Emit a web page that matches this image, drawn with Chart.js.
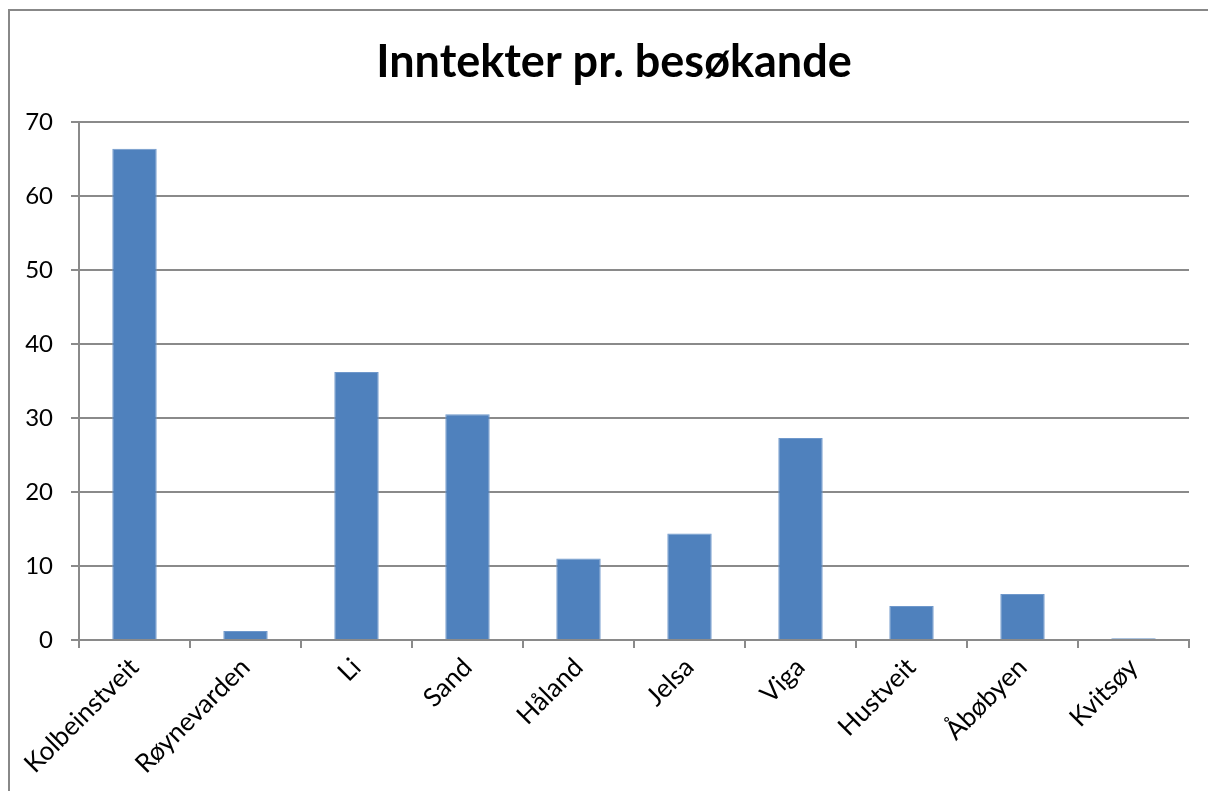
<!DOCTYPE html>
<html>
<head>
<meta charset="utf-8">
<script src="https://cdn.jsdelivr.net/npm/chart.js@4.4.1/dist/chart.umd.min.js"></script>
<style>
  body { margin: 0; background: #fff; overflow: hidden; }
  #ramme { position: absolute; left: 8px; top: 9px; width: 1300px; height: 900px;
           border-left: 2px solid #888; border-top: 2px solid #888; }
  #graf { position: absolute; left: 0; top: 0; }
</style>
</head>
<body>
<div id="ramme"></div>
<canvas id="graf" width="1208" height="791"></canvas>
<script>
// Inntekter pr. besøkande
const steder = ['Kolbeinstveit', 'Røynevarden', 'Li', 'Sand', 'Håland', 'Jelsa', 'Viga', 'Hustveit', 'Åbøbyen', 'Kvitsøy'];
const inntekter = [66.4, 1.2, 36.2, 30.5, 11.0, 14.4, 27.3, 4.6, 6.2, 0.25];
const yTicks = [0, 10, 20, 30, 40, 50, 60, 70];

const gra = '#8a8a8a';

const data = {
    labels: steder,
    datasets: [{
        label: 'Inntekter pr. besøkande',
        data: inntekter,
        backgroundColor: '#4F81BD',
        borderColor: '#6f98cb',
        borderWidth: 1,
        barPercentage: 0.4,
        categoryPercentage: 1
    }]
};

const config = {
    type: 'bar',
    data: data,
    options: {
        responsive: false,
        animation: false,
        layout: {
            padding: { left: 20, right: 0, top: 0, bottom: 0 }
        },
        scales: {
            x: {
                grid: {
                    offset: true,
                    drawOnChartArea: false,
                    tickLength: 8,
                    color: gra,
                    lineWidth: 2
                },
                border: { color: gra, width: 2 },
                ticks: {
                    minRotation: 45,
                    maxRotation: 45,
                    padding: 4,
                    color: '#000',
                    font: { family: 'Lato', size: 26 }
                },
                afterFit: function(scale) { scale.height = 151; }
            },
            y: {
                min: 0,
                max: 70,
                afterBuildTicks: function(scale) {
                    scale.ticks = yTicks.map(v => ({ value: v }));
                },
                grid: {
                    tickLength: 8,
                    color: gra,
                    lineWidth: 2
                },
                border: { color: gra, width: 2 },
                ticks: {
                    padding: 18,
                    color: '#000',
                    font: { family: 'Lato', size: 24 }
                },
                afterFit: function(scale) { scale.width = 59; }
            },
            // tom akse til høgre, berre for å halde plass
            hogre: {
                position: 'right',
                display: true,
                grid: { display: false },
                border: { display: false },
                ticks: { display: false },
                afterFit: function(scale) { scale.width = 19; }
            }
        },
        plugins: {
            legend: { display: false },
            tooltip: { enabled: false },
            title: {
                display: true,
                text: 'Inntekter pr. besøkande',
                color: '#000',
                font: { family: 'Lato', size: 45, weight: 'bold', lineHeight: 1.2 },
                padding: { top: 35, bottom: 33 }
            }
        }
    }
};

new Chart(document.getElementById('graf'), config);
</script>
</body>
</html>
